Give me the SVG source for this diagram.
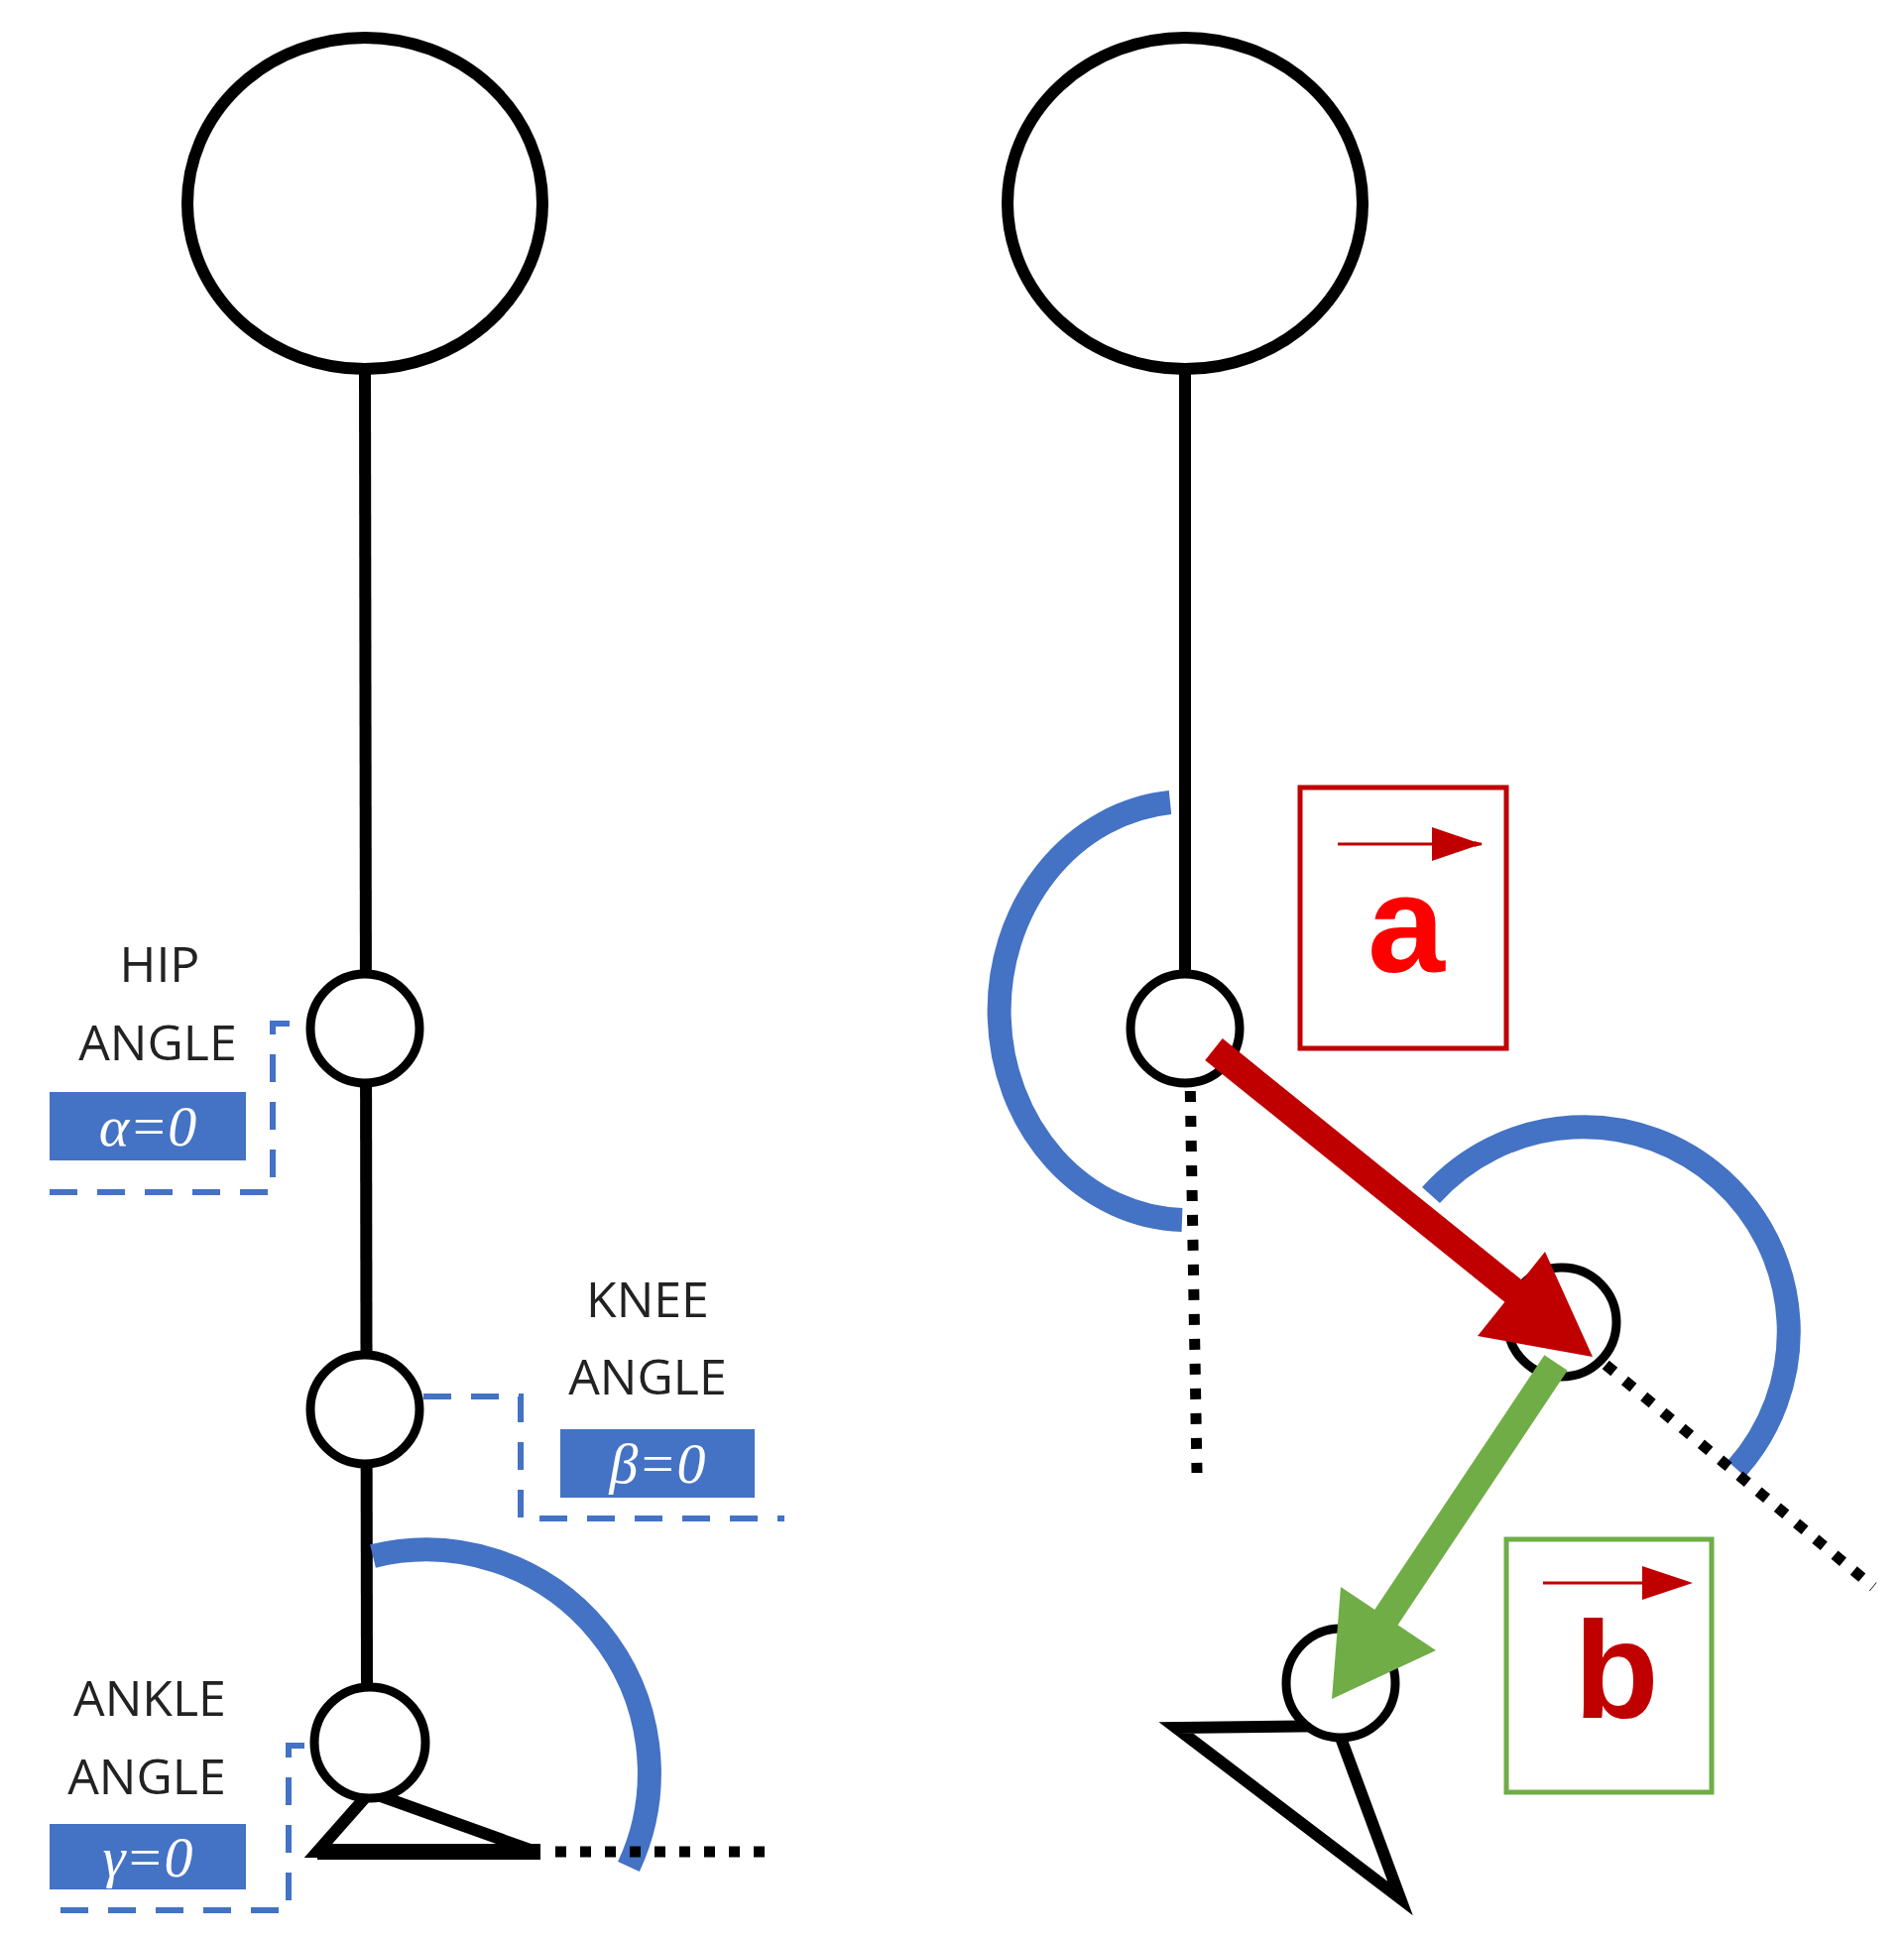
<svg xmlns="http://www.w3.org/2000/svg" width="1920" height="1957" viewBox="0 0 1920 1957">
<style>
.k{fill:none;stroke:#000;stroke-width:12}
.j{fill:#fff;stroke:#000;stroke-width:9}
.dot{fill:none;stroke:#000;stroke-width:11;stroke-dasharray:11 14}
.arc{fill:none;stroke:#4472c4;stroke-width:24}
.dash{fill:none;stroke:#4472c4;stroke-width:6;stroke-dasharray:28 20}
.lbl{font-family:"Open Sans",sans-serif;font-size:50px;fill:#222;text-anchor:middle}
.gk{font-family:"Liberation Serif",serif;font-style:italic;font-size:58px;fill:#fff;text-anchor:middle}
.box{fill:#4472c4}
</style>
<defs>
<marker id="ra" markerWidth="8" markerHeight="6" refX="7" refY="3" orient="auto" markerUnits="userSpaceOnUse" viewBox="0 0 8 6"><path d="M0 0L8 3L0 6z" fill="#c00000"/></marker>
</defs>
<rect width="1920" height="1957" fill="#fff"/>
<g id="left-figure">
<ellipse class="k" cx="368" cy="205" rx="179" ry="167"/>
<line class="k" x1="368" y1="372" x2="370" y2="1707"/>
<path class="arc" d="M376 1569 A225 225 0 0 1 634 1882"/>
<path class="k" d="M373 1807 L320 1867 L540 1867 Z"/>
<line x1="320" y1="1867" x2="545" y2="1867" stroke="#000" stroke-width="16"/>
<line class="dot" x1="560" y1="1867" x2="775" y2="1867"/>
<circle class="j" cx="368" cy="1037" r="55"/>
<circle class="j" cx="368" cy="1421" r="55"/>
<circle class="j" cx="373" cy="1757" r="56"/>
</g>
<g id="hip-label">
<text class="lbl" x="161" y="990">HIP</text>
<text class="lbl" x="159" y="1069">ANGLE</text>
<rect class="box" x="50" y="1101" width="198" height="69"/>
<text class="gk" x="149" y="1155">α=0</text>
<path class="dash" d="M292 1032 H275 V1202 H30"/>
</g>
<g id="knee-label">
<text class="lbl" x="653" y="1328">KNEE</text>
<text class="lbl" x="653" y="1406">ANGLE</text>
<rect class="box" x="565" y="1441" width="196" height="69"/>
<text class="gk" x="663" y="1495">β=0</text>
<path class="dash" d="M427 1408 H525 V1531 H791"/>
</g>
<g id="ankle-label">
<text class="lbl" x="151" y="1730">ANKLE</text>
<text class="lbl" x="148" y="1809">ANGLE</text>
<rect class="box" x="50" y="1839" width="198" height="66"/>
<text class="gk" x="149" y="1892">γ=0</text>
<path class="dash" d="M307 1760 H291 V1926 H50"/>
</g>
<g id="right-figure">
<ellipse class="k" cx="1195" cy="205" rx="179" ry="167"/>
<line class="k" x1="1195" y1="372" x2="1195" y2="1000"/>
<path class="arc" d="M1180 809 A190 211 0 0 0 1192 1230"/>
<path class="arc" d="M1443 1205 A190 190 0 1 1 1751 1481"/>
<line class="dot" x1="1199" y1="1025" x2="1207" y2="1485"/>
<line class="dot" x1="1600" y1="1360" x2="1889" y2="1600"/>
<path class="k" d="M1352 1740 L1186 1742 L1412 1914 L1352 1752"/>
<circle class="j" cx="1195" cy="1037" r="55"/>
<circle class="j" cx="1575" cy="1333" r="55"/>
<circle class="j" cx="1352" cy="1697" r="55"/>
</g>
<g id="connectors">
<line x1="1224" y1="1058" x2="1540" y2="1313" stroke="#c00000" stroke-width="28"/>
<path d="M1606 1368 L1490 1347 L1558 1262 Z" fill="#c00000"/>
<line x1="1569" y1="1374" x2="1385" y2="1650" stroke="#70ad47" stroke-width="28"/>
<path d="M1343 1713 L1352 1600 L1448 1664 Z" fill="#70ad47"/>
</g>
<g id="vector-a">
<rect x="1311" y="794" width="208" height="263" fill="none" stroke="#c00000" stroke-width="5"/>
<line x1="1349" y1="851" x2="1494" y2="851" stroke="#c00000" stroke-width="3" marker-end="url(#ra)"/>
<path d="M1444 834 L1494 851 L1444 868 Z" fill="#c00000"/>
<text x="1418" y="980" font-family="Liberation Sans,sans-serif" font-weight="bold" font-size="140" fill="#ff0000" text-anchor="middle">a</text>
</g>
<g id="vector-b">
<rect x="1519" y="1552" width="207" height="255" fill="none" stroke="#70ad47" stroke-width="5"/>
<line x1="1556" y1="1596" x2="1670" y2="1596" stroke="#c00000" stroke-width="3"/>
<path d="M1656 1579 L1707 1596 L1656 1613 Z" fill="#c00000"/>
<text x="1630" y="1732" font-family="Liberation Sans,sans-serif" font-weight="bold" font-size="140" fill="#c00000" text-anchor="middle">b</text>
</g>
</svg>
